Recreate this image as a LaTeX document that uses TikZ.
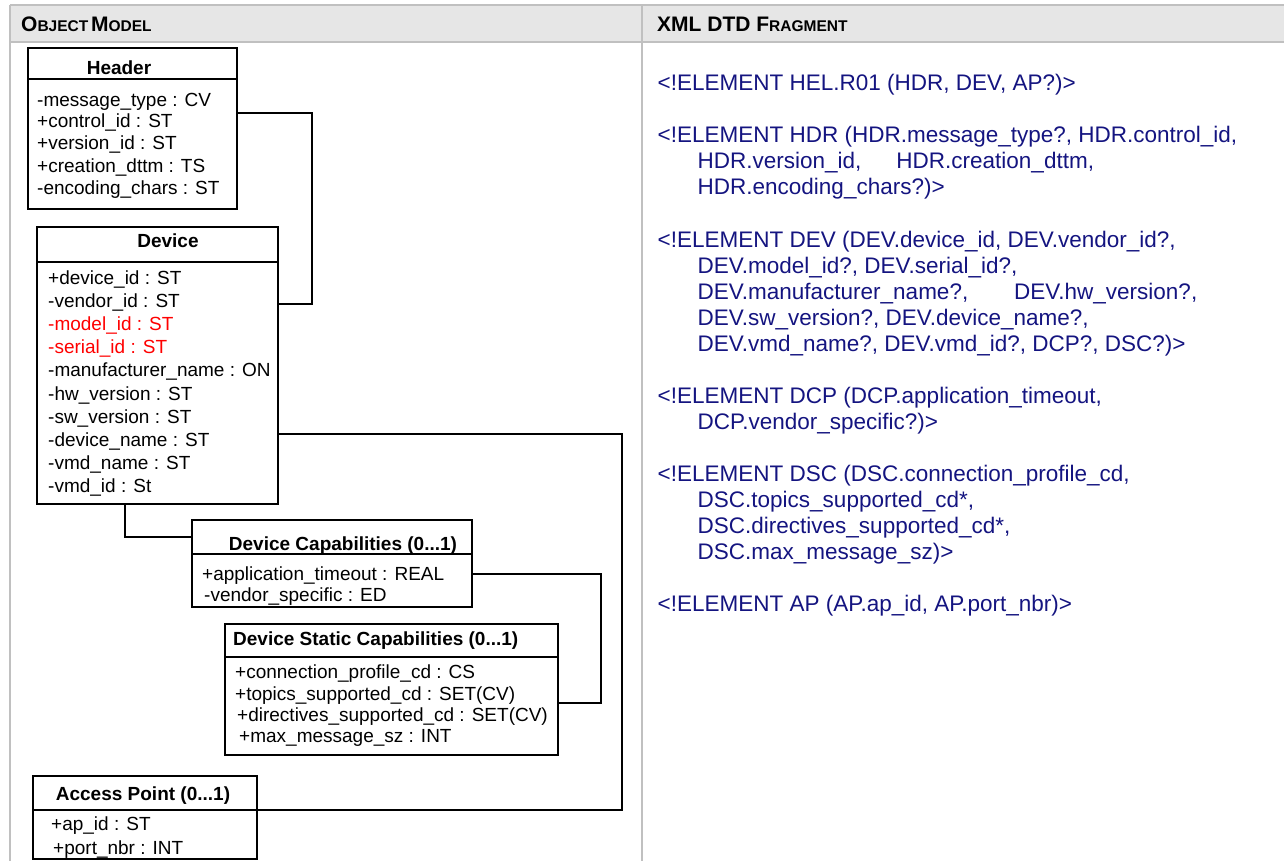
\documentclass[tikz,border=0pt]{standalone}
\usepackage{fontspec}
\setmainfont{Liberation Sans}
\definecolor{dtdblue}{RGB}{20,20,128}
\definecolor{gridgray}{RGB}{192,192,192}
\definecolor{headfill}{RGB}{230,230,230}
\definecolor{attrred}{RGB}{255,0,0}
\newcommand{\bigc}[1]{{\fontsize{21}{21}\selectfont #1}}
\newcommand{\smc}[1]{{\fontsize{15.5}{15.5}\selectfont #1}}
\begin{document}
\begin{tikzpicture}[x=1pt,y=-1pt,
  gridline/.style={draw=gridgray, line width=2pt},
  umlbox/.style={draw=black, line width=2.6pt, inner sep=0pt, outer sep=0pt, anchor=north west},
  sepline/.style={draw=black, line width=2.6pt},
  conn/.style={draw=black, line width=1.6pt},
  attr/.style={anchor=base west, inner sep=0pt, font=\fontsize{19}{22}\selectfont},
  redattr/.style={attr, text=attrred},
  title/.style={anchor=base, inner sep=0pt, font=\bfseries\fontsize{19}{22}\selectfont},
  colhead/.style={anchor=base west, inner sep=0pt, font=\bfseries},
  dtd/.style={anchor=base west, inner sep=0pt, text=dtdblue, font=\fontsize{22.5}{26}\selectfont}]
\useasboundingbox (0,0) rectangle (1284,861);

% table frame
\fill[headfill] (10,5) rectangle (1284,42);
\draw[gridline] (10,5) -- (1284,5);
\draw[gridline] (10,42) -- (1284,42);
\draw[gridline] (10,5) -- (10,861);
\draw[gridline] (642,5) -- (642,861);
\node[colhead] (hOM) at (21,31.5) {\bigc{O}\smc{BJECT} \bigc{M}\smc{ODEL}};
\node[colhead] (hXML) at (657,31.5) {\bigc{XML DTD F}\smc{RAGMENT}};

% UML boxes
\node[umlbox, minimum width=209pt, minimum height=161pt] (hdr) at (28,48) {};
\draw[sepline] (hdr.west |- 0,79) -- (hdr.east |- 0,79);
\node[title] (hdrT) at (119,75) {Header};
\node[attr] (h1) at (37,107) {-message\_type : CV};
\node[attr] (h2) at (37,128) {+control\_id : ST};
\node[attr] (h3) at (37,150) {+version\_id : ST};
\node[attr] (h4) at (37,173) {+creation\_dttm : TS};
\node[attr] (h5) at (37,195) {-encoding\_chars : ST};

\node[umlbox, minimum width=241pt, minimum height=277pt] (dev) at (37,227) {};
\draw[sepline] (dev.west |- 0,262) -- (dev.east |- 0,262);
\node[title] (devT) at (168,247) {Device};
\node[attr] (d1) at (48,284) {+device\_id : ST};
\node[attr] (d2) at (48,307) {-vendor\_id : ST};
\node[redattr] (d3) at (48,330) {-model\_id : ST};
\node[redattr] (d4) at (48,353) {-serial\_id : ST};
\node[attr] (d5) at (48,376) {-manufacturer\_name : ON};
\node[attr] (d6) at (48,400) {-hw\_version : ST};
\node[attr] (d7) at (48,423) {-sw\_version : ST};
\node[attr] (d8) at (48,446) {-device\_name : ST};
\node[attr] (d9) at (48,469) {-vmd\_name : ST};
\node[attr] (d10) at (48,492) {-vmd\_id : St};

\node[umlbox, minimum width=280pt, minimum height=87pt] (dcp) at (192,520) {};
\draw[sepline] (dcp.west |- 0,554) -- (dcp.east |- 0,554);
\node[title] (dcpT) at (343,550) {Device Capabilities (0...1)};
\node[attr] (c1) at (202,580) {+application\_timeout : REAL};
\node[attr] (c2) at (204,601) {-vendor\_specific : ED};

\node[umlbox, minimum width=333pt, minimum height=131pt] (dsc) at (225,624) {};
\draw[sepline] (dsc.west |- 0,657) -- (dsc.east |- 0,657);
\node[title, anchor=base west] (dscT) at (233,645) {Device Static Capabilities (0...1)};
\node[attr] (s1) at (235,678) {+connection\_profile\_cd : CS};
\node[attr] (s2) at (235,700) {+topics\_supported\_cd : SET(CV)};
\node[attr] (s3) at (237,721) {+directives\_supported\_cd : SET(CV)};
\node[attr] (s4) at (239,742) {+max\_message\_sz : INT};

\node[umlbox, minimum width=224pt, minimum height=83pt] (ap) at (33,776) {};
\draw[sepline] (ap.west |- 0,810) -- (ap.east |- 0,810);
\node[title] (apT) at (143,800) {Access Point (0...1)};
\node[attr] (a1) at (51,830) {+ap\_id : ST};
\node[attr] (a2) at (53,854) {+port\_nbr : INT};

% connectors
\coordinate (k1) at (312,113);
\coordinate (k2) at (312,304);
\draw[conn] (hdr.east |- k1) -- (k1) -- (k2) -- (dev.east |- k2);
\coordinate (k3) at (622,434);
\coordinate (k4) at (622,810);
\draw[conn] (dev.east |- k3) -- (k3) -- (k4) -- (ap.east |- k4);
\coordinate (k5) at (125,537);
\draw[conn] (dev.south -| k5) -- (k5) -- (dcp.west |- k5);
\coordinate (k6) at (601,574);
\coordinate (k7) at (601,703);
\draw[conn] (dcp.east |- k6) -- (k6) -- (k7) -- (dsc.east |- k7);

% DTD fragment
\node[dtd] (t1) at (657.5,91) {<!ELEMENT HEL.R01 (HDR, DEV, AP?)>};
\node[dtd] (t2) at (657.5,143) {<!ELEMENT HDR (HDR.message\_type?, HDR.control\_id,};
\node[dtd] (t3) at (697.5,169) {HDR.version\_id,\hspace{35pt}HDR.creation\_dttm,};
\node[dtd] (t4) at (697.5,195) {HDR.encoding\_chars?)>};
\node[dtd] (t5) at (657.5,247) {<!ELEMENT DEV (DEV.device\_id, DEV.vendor\_id?,};
\node[dtd] (t6) at (697.5,273) {DEV.model\_id?, DEV.serial\_id?,};
\node[dtd] (t7) at (697.5,299) {DEV.manufacturer\_name?,\hspace{46pt}DEV.hw\_version?,};
\node[dtd] (t8) at (697.5,325) {DEV.sw\_version?, DEV.device\_name?,};
\node[dtd] (t9) at (697.5,351) {DEV.vmd\_name?, DEV.vmd\_id?, DCP?, DSC?)>};
\node[dtd] (t10) at (657.5,403) {<!ELEMENT DCP (DCP.application\_timeout,};
\node[dtd] (t11) at (697.5,429) {DCP.vendor\_specific?)>};
\node[dtd] (t12) at (657.5,481) {<!ELEMENT DSC (DSC.connection\_profile\_cd,};
\node[dtd] (t13) at (697.5,507) {DSC.topics\_supported\_cd*,};
\node[dtd] (t14) at (697.5,533) {DSC.directives\_supported\_cd*,};
\node[dtd] (t15) at (697.5,559) {DSC.max\_message\_sz)>};
\node[dtd] (t16) at (657.5,611) {<!ELEMENT AP (AP.ap\_id, AP.port\_nbr)>};
\end{tikzpicture}
\end{document}
